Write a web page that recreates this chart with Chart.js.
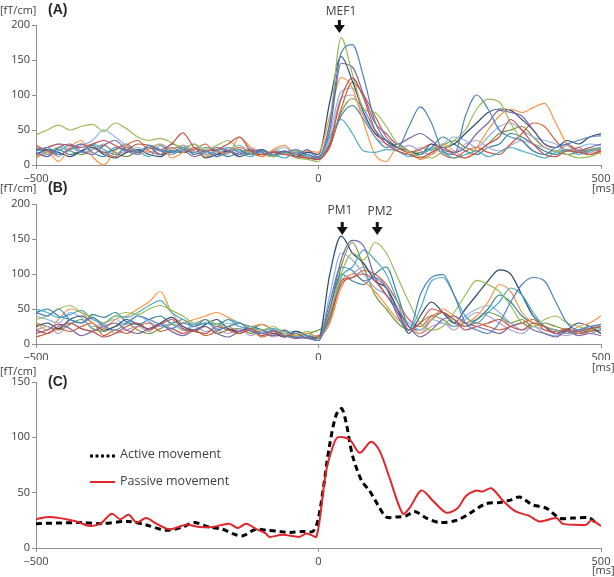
<!DOCTYPE html>
<html><head><meta charset="utf-8">
<script src="https://cdn.jsdelivr.net/npm/chart.js@4"></script>
<style>
body{margin:0;background:#fff;width:614px;height:577px;position:relative;overflow:hidden;font-family:"Open Sans",sans-serif;color:#404040}
canvas{position:absolute;left:0}
.t{position:absolute;white-space:nowrap;font-size:11px;line-height:1}
.m{position:absolute;white-space:nowrap;font-size:12px;line-height:1;transform:translateX(-50%)}
.p{position:absolute;font-family:"Liberation Sans",Arial,sans-serif;font-weight:bold;font-size:14px;color:#262626;line-height:1}
.lg{position:absolute;white-space:nowrap;font-size:12.5px;line-height:1}
svg{position:absolute}
</style></head><body>
<canvas id="ca" width="614" height="185" style="top:0;width:614px;height:185px"></canvas>
<canvas id="cb" width="614" height="175" style="top:185px;width:614px;height:175px"></canvas>
<canvas id="cc" width="614" height="217" style="top:360px;width:614px;height:217px"></canvas>

<div class="t" style="left:0;top:4px">[fT/cm]</div>
<div class="p" style="left:48px;top:2px">(A)</div>
<div class="t" style="left:592px;top:182px">[ms]</div>
<div class="m" style="left:341px;top:5px">MEF1</div>

<div class="t" style="left:0;top:182px">[fT/cm]</div>
<div class="p" style="left:48px;top:180px">(B)</div>
<div class="t" style="left:592px;top:361px">[ms]</div>
<div class="m" style="left:340px;top:204px">PM1</div>
<div class="m" style="left:380px;top:205px">PM2</div>

<div class="t" style="left:0;top:365px">[fT/cm]</div>
<div class="p" style="left:48px;top:374px">(C)</div>
<div class="t" style="left:592px;top:564px">[ms]</div>

<svg style="left:88px;top:452px" width="28" height="8"><line x1="2" y1="4" x2="27" y2="4" stroke="#000" stroke-width="3" stroke-dasharray="3,2.5"/></svg>
<div class="lg" style="left:120px;top:448px">Active movement</div>
<svg style="left:88px;top:478px" width="28" height="8"><line x1="2" y1="4" x2="27" y2="4" stroke="#E0262B" stroke-width="2"/></svg>
<div class="lg" style="left:120px;top:475px">Passive movement</div>

<script>
// time axis (ms) for panels A and B
const times = [-500,-480,-460,-440,-420,-400,-380,-360,-340,-320,-300,-280,-260,-240,-220,-200,-180,-160,-140,-120,-100,-80,-60,-40,-20,0,
  20,40,60,80,100,120,140,160,180,200,220,240,260,280,300,320,340,360,380,400,420,440,460,480,500];
const xTickLabels = ['−500','0','500'];

// Panel A (active movement, individual subjects)
const A1 = [20,25,15,22,30,18,12,25,20,15,28,22,18,25,15,20,12,18,22,15,20,14,18,22,15,10,
  60,160,172,125,62,35,25,55,83,60,20,15,70,100,80,50,40,35,20,15,25,30,35,40,42];
const A2 = [22,25,30,28,25,30,35,28,22,30,28,22,30,46,25,20,22,30,40,20,15,18,15,12,10,8,
  30,95,124,95,50,30,20,15,10,18,25,15,10,18,30,40,65,50,30,15,12,20,18,15,20];
const A3 = [43,50,57,50,55,58,48,60,52,40,35,38,32,25,30,22,28,35,22,18,15,12,18,10,8,5,
  60,182,130,80,75,55,30,20,12,10,20,35,50,80,94,90,60,35,20,15,20,15,10,12,18];
const A4 = [18,12,25,30,20,15,28,35,22,18,25,15,30,22,12,18,25,20,15,22,18,12,20,15,22,12,
  50,145,140,100,60,45,30,38,45,35,22,18,25,45,60,78,75,70,50,30,25,30,20,25,30];
const A5 = [25,15,20,28,18,30,22,15,25,20,12,28,18,22,30,15,20,25,18,12,20,15,10,18,12,8,
  40,65,45,20,18,22,20,12,15,25,18,10,15,20,12,18,25,20,15,10,18,22,15,20,25];
const A6 = [10,18,5,25,35,12,0,20,28,15,22,30,10,18,25,12,20,15,40,25,12,22,28,15,20,18,
  70,125,110,60,15,5,25,20,8,15,30,20,10,25,50,70,80,75,82,88,60,30,20,25,15];
const A7 = [15,22,18,12,20,25,15,10,18,22,15,12,20,18,25,10,15,20,12,18,22,15,20,12,18,15,
  90,155,120,75,45,35,25,20,15,30,25,30,45,60,75,80,78,65,50,30,25,35,30,40,45];
const A8 = [28,20,15,22,30,25,18,12,28,35,20,15,25,18,22,30,15,20,25,18,12,20,15,18,10,12,
  25,80,118,100,70,40,25,18,22,30,15,10,20,25,18,15,30,45,60,55,35,20,25,15,22];
const A9 = [20,25,30,22,28,35,50,40,28,20,25,30,22,18,25,20,15,22,28,18,15,20,25,15,20,10,
  45,105,110,80,50,35,20,15,25,20,30,40,35,25,40,55,60,50,40,35,30,20,25,30,28];
const A10 = [15,20,12,25,18,22,30,15,20,25,18,22,15,28,20,12,18,22,15,25,18,12,20,15,10,12,
  35,95,100,70,40,30,22,28,20,15,25,18,30,35,25,20,28,35,30,25,20,28,22,18,25];
const A11 = [25,18,22,15,20,28,18,22,30,18,25,20,15,22,18,25,20,12,18,22,15,20,18,12,15,10,
  30,70,85,65,40,25,30,20,15,25,40,30,20,15,25,30,45,40,30,20,15,22,18,20,22];
const A12 = [12,18,25,20,15,22,28,18,12,20,25,15,22,28,15,20,12,25,18,15,22,12,18,20,12,8,
  28,75,95,80,50,35,20,15,18,22,28,35,25,20,30,45,50,55,40,25,20,15,18,22,25];

// Panel B (passive movement, individual subjects)
const B1 = [45,40,50,35,30,38,25,20,30,40,35,28,22,30,25,35,20,25,30,18,15,20,12,10,8,5,
  60,110,105,90,95,80,40,20,70,95,99,70,30,20,15,30,60,85,95,90,60,30,20,25,28];
const B2 = [20,15,25,30,22,18,10,15,25,30,20,28,35,22,18,15,25,20,15,22,12,18,10,15,8,10,
  40,85,95,100,90,70,45,20,30,50,45,35,20,25,30,35,25,20,30,25,15,20,18,22,25];
const B3 = [35,40,50,55,45,38,30,40,45,42,50,55,48,40,30,35,28,25,30,22,20,25,15,12,18,8,
  45,100,130,120,145,130,95,60,30,20,25,45,70,91,85,75,55,30,25,35,40,30,25,20,28];
const B4 = [15,20,28,22,12,18,25,30,20,15,22,28,18,12,20,25,15,10,18,22,15,12,20,8,10,5,
  50,120,148,140,95,70,50,25,10,20,35,40,30,25,20,15,25,30,20,15,10,18,12,15,12];
const B5 = [50,45,38,42,48,35,30,40,38,45,55,62,45,35,28,30,25,35,30,25,20,22,18,15,12,10,
  35,95,110,134,120,100,60,20,50,90,95,70,40,30,45,60,80,70,45,25,20,15,20,25,22];
const B6 = [30,20,35,50,45,30,22,35,40,50,60,75,45,30,35,40,45,38,30,25,28,20,15,12,15,10,
  30,80,100,90,75,55,35,25,15,35,50,40,30,40,60,85,75,45,30,25,20,15,25,30,40];
const B7 = [25,30,22,35,40,30,20,25,35,28,22,30,38,25,20,28,35,22,18,25,20,15,10,18,12,8,
  100,154,130,115,90,80,50,15,40,60,45,30,50,70,90,106,100,70,40,25,15,20,30,25,15];
const B8 = [10,15,22,18,25,30,12,20,15,25,30,18,22,15,20,12,18,25,15,20,10,15,12,8,10,12,
  30,90,95,105,100,85,60,35,25,40,45,35,25,30,25,20,25,30,35,20,18,22,15,18,20];
const B9 = [40,35,30,45,38,25,30,35,28,40,32,25,30,20,28,35,22,30,25,18,15,20,15,10,12,8,
  70,130,120,100,80,70,45,30,20,35,30,25,40,50,55,45,30,20,25,15,12,20,18,15,20];
const B10 = [20,25,15,30,22,18,28,15,20,25,18,30,22,15,25,18,20,15,22,12,18,10,15,12,8,10,
  40,90,100,110,95,80,50,25,15,25,30,20,35,45,40,30,20,15,25,20,15,12,18,22,15];
const B11 = [45,50,40,35,30,42,38,45,32,28,35,40,30,35,25,30,28,35,25,22,28,20,15,18,12,10,
  50,100,90,85,100,110,70,25,20,35,45,30,25,35,50,70,60,40,30,25,20,18,15,20,25];
const B12 = [30,25,20,28,35,22,18,25,30,20,15,22,28,20,18,25,15,20,22,15,18,12,20,10,15,20,
  35,110,145,110,70,50,30,20,30,40,35,25,30,35,45,40,30,35,25,30,25,20,15,18,20];

// Panel C (grand averages)
const activeT = [-500,-420,-386,-337,-306,-270,-240,-220,-194,-170,-152,-134,-111,-93,-69,-51,-28,-10,-1,8,
  19,31,41,49,60,76,90,105,120,138,155,170,191,214,244,267,296,320,338,356,379,403,427,450,480,494];
const activeV = [22,23,22,24,21,16,19,23,19,17,13,11,17,16,15,14,15,15,25,52,
  91,120,126,113,84,61,52,39,28,28,29,33,27,23,25,31,40,41,43,46,39,36,27,27,27,21];
const passiveT = [-500,-475,-428,-407,-386,-366,-351,-336,-322,-305,-287,-264,-234,-210,-187,-158,-143,-128,-110,-93,
  -87,-64,-34,-22,-10,-4,2,13,25,34,55,73,93,108,126,149,161,182,202,226,246,261,279,290,306,326,349,373,391,421,432,456,474,483,500];
const passiveV = [26,28,24,20,22,31,26,30,23,27,22,17,21,19,19,22,18,22,17,13,
  10,12,10,13,11,10,25,68,91,100,98,86,96,88,63,31,36,52,43,32,36,47,52,51,54,43,33,29,24,27,22,21,21,25,20];
const seriesNames = ['Active movement','Passive movement'];

const colors = ['#4F81BD','#C0504D','#9BBB59','#8064A2','#4BACC6','#F79646','#2C4D75','#D2603A','#8EB4E3','#B3A2C7','#31859C','#77933C'];
const tracesA = [A1,A2,A3,A4,A5,A6,A7,A8,A9,A10,A11,A12];
const tracesB = [B1,B2,B3,B4,B5,B6,B7,B8,B9,B10,B11,B12];

const axisColor = '#8f8f8f';
const tickFont = {family:'"Open Sans", sans-serif', size:11};

const arrowPlugin = {
  id:'arrows',
  afterDraw(chart, args, opts){
    const ctx = chart.ctx;
    (opts.items||[]).forEach(it=>{
      const x = chart.scales.x.getPixelForValue(it.t);
      const y0 = it.y;
      ctx.save();
      ctx.fillStyle = '#111';
      ctx.fillRect(x-1.5, y0, 3, 6);
      ctx.beginPath();
      ctx.moveTo(x-5.5, y0+5); ctx.lineTo(x+5.5, y0+5); ctx.lineTo(x, y0+13);
      ctx.closePath(); ctx.fill();
      ctx.restore();
    });
  }
};

function toPts(tArr, vArr){ return vArr.map((v,i)=>({x:tArr[i], y:v})); }

function makeChart(id, datasets, yMax, padTop, xHeight, arrows){
  return new Chart(document.getElementById(id), {
    type:'line',
    data:{datasets},
    options:{
      responsive:false, animation:false, events:[],
      layout:{padding:{top:padTop, right:13, left:0, bottom:0}},
      plugins:{legend:{display:false}, tooltip:{enabled:false}, arrows:{items:arrows}},
      elements:{point:{radius:0}},
      scales:{
        x:{type:'linear', min:-500, max:500,
           ticks:{stepSize:500, color:'#404040', font:tickFont, padding:3, maxRotation:0,
                  callback:(v)=>{const i=[-500,0,500].indexOf(v); return i>=0?xTickLabels[i]:'';}},
           grid:{drawOnChartArea:false, drawTicks:true, tickLength:4, color:axisColor},
           border:{color:axisColor},
           afterFit:(s)=>{s.height = xHeight;}},
        y:{min:0, max:yMax,
           ticks:{stepSize:50, color:'#404040', font:tickFont, padding:2},
           grid:{drawOnChartArea:false, drawTicks:true, tickLength:4, color:axisColor},
           border:{color:axisColor},
           afterFit:(s)=>{s.width = 36;}}
      }
    },
    plugins:[arrowPlugin]
  });
}

const dsA = tracesA.map((tr,i)=>({data:toPts(times,tr), borderColor:colors[i], borderWidth:1.2, cubicInterpolationMode:'monotone', fill:false}));
const dsB = tracesB.map((tr,i)=>({data:toPts(times,tr), borderColor:colors[i], borderWidth:1.2, cubicInterpolationMode:'monotone', fill:false}));
const dsC = [
  {label:seriesNames[1], data:toPts(passiveT,passiveV), borderColor:'#E0262B', borderWidth:2, tension:0.3, fill:false},
  {label:seriesNames[0], data:toPts(activeT,activeV), borderColor:'#000', borderWidth:3, borderDash:[6,4], tension:0.3, fill:false}
];

makeChart('ca', dsA, 200, 25, 20, [{t:37, y:20}]);
makeChart('cb', dsB, 200, 19, 16, [{t:42, y:37},{t:104, y:37}]);
makeChart('cc', dsC, 150, 22, 29, []);
</script>
</body></html>
